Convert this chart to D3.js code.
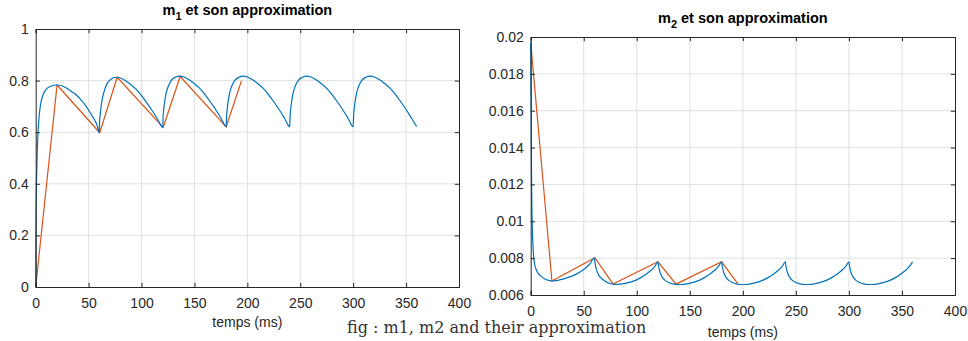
<!DOCTYPE html>
<html>
<head>
<meta charset="utf-8">
<script src="https://cdn.jsdelivr.net/npm/d3@7"></script>
<style>
  html, body { margin: 0; padding: 0; background: #fff; }
  svg { display: block; }
  .tick text { font-family: "Liberation Sans", Arial, sans-serif; font-size: 14px; fill: #262626; }
</style>
</head>
<body>
<svg id="fig" width="968" height="341"></svg>
<script>
// time axis ticks (ms), shared by both panels
const xTicks = [0, 50, 100, 150, 200, 250, 300, 350, 400];
const m1Ticks = [0, 0.2, 0.4, 0.6, 0.8, 1];
const m2Ticks = [0.006, 0.008, 0.01, 0.012, 0.014, 0.016, 0.018, 0.02];

// m1 : simulated trajectory [t (ms), value]
const m1Curve = [
  [0,0],[0.15,0.2],[0.4,0.32],[0.7,0.40],[1,0.45],[1.5,0.53],[2,0.585],[3,0.65],[4,0.69],[5.3,0.722],
  [7,0.745],[10,0.767],[14,0.778],[20,0.783],[25,0.779],[29,0.771],[34,0.757],[38.4,0.744],[43,0.724],
  [47.8,0.699],[52,0.672],[55.7,0.647],[58,0.627],[60,0.598],
  [60.4,0.64],[61,0.67],[62,0.705],[63,0.73],[65,0.763],[68,0.792],[72,0.808],[76,0.813],[80,0.810],
  [85,0.799],[90,0.784],[95,0.766],[100,0.742],[105,0.714],[110,0.684],[115,0.652],[120,0.619],
  [120.4,0.66],[121,0.69],[122,0.722],[123,0.746],[125,0.775],[128,0.8],[132,0.813],[136,0.817],[140,0.814],
  [145,0.803],[150,0.788],[155,0.770],[160,0.746],[165,0.718],[170,0.688],[175,0.655],[180,0.621],
  [180.4,0.662],[181,0.692],[182,0.723],[183,0.747],[185,0.776],[188,0.8],[192,0.813],[196,0.817],[200,0.814],
  [205,0.803],[210,0.788],[215,0.770],[220,0.746],[225,0.718],[230,0.688],[235,0.655],[240,0.621],
  [240.4,0.662],[241,0.692],[242,0.723],[243,0.747],[245,0.776],[248,0.8],[252,0.813],[256,0.817],[260,0.814],
  [265,0.803],[270,0.788],[275,0.770],[280,0.746],[285,0.718],[290,0.688],[295,0.655],[300,0.621],
  [300.4,0.662],[301,0.692],[302,0.723],[303,0.747],[305,0.776],[308,0.8],[312,0.813],[316,0.817],[320,0.814],
  [325,0.803],[330,0.788],[335,0.770],[340,0.746],[345,0.718],[350,0.688],[355,0.655],[360,0.622]
];
// m1 : piecewise-linear approximation
const m1Approx = [[0,0],[20.2,0.783],[60.5,0.598],[77,0.813],[120.5,0.619],[136.5,0.816],[180,0.621],[194.5,0.800]];

// m2 : simulated trajectory [t (ms), value]
const m2Curve = [
  [0,0.0197],[0.3,0.0165],[0.6,0.0135],[1,0.0112],[1.5,0.0097],[2.5,0.0083],[4,0.0076],[6,0.00728],
  [9,0.00705],[13,0.00688],[17,0.00679],[20,0.00676],[24,0.00678],[28,0.00683],[32,0.00689],[36,0.00697],
  [40,0.00705],[44,0.00716],[48,0.00730],[52,0.00748],[56,0.00770],[60,0.00802],
  [60.5,0.0078],[61,0.00762],[62,0.00738],[64,0.0071],[67,0.00688],[70,0.00675],[74,0.00664],[78,0.00659],
  [82,0.00658],[86,0.0066],[90,0.00664],[94,0.0067],[98,0.00678],[102,0.00689],[106,0.00702],[110,0.00718],
  [114,0.00737],[117,0.00755],[120,0.0078],
  [120.5,0.0076],[121,0.00744],[122,0.00722],[124,0.00697],[127,0.00678],[130,0.00668],[134,0.0066],[138,0.00657],
  [142,0.00657],[146,0.00659],[150,0.00664],[154,0.0067],[158,0.00678],[162,0.00689],[166,0.00702],[170,0.00718],
  [174,0.00737],[177,0.00755],[180,0.0078],
  [180.5,0.0076],[181,0.00744],[182,0.00722],[184,0.00697],[187,0.00678],[190,0.00668],[194,0.0066],[198,0.00657],
  [202,0.00657],[206,0.00659],[210,0.00664],[214,0.0067],[218,0.00678],[222,0.00689],[226,0.00702],[230,0.00718],
  [234,0.00737],[237,0.00755],[240,0.0078],
  [240.5,0.0076],[241,0.00744],[242,0.00722],[244,0.00697],[247,0.00678],[250,0.00668],[254,0.0066],[258,0.00657],
  [262,0.00657],[266,0.00659],[270,0.00664],[274,0.0067],[278,0.00678],[282,0.00689],[286,0.00702],[290,0.00718],
  [294,0.00737],[297,0.00755],[300,0.0078],
  [300.5,0.0076],[301,0.00744],[302,0.00722],[304,0.00697],[307,0.00678],[310,0.00668],[314,0.0066],[318,0.00657],
  [322,0.00657],[326,0.00659],[330,0.00664],[334,0.0067],[338,0.00678],[342,0.00689],[346,0.00702],[350,0.00718],
  [354,0.00737],[357,0.00755],[360,0.0078]
];
// m2 : piecewise-linear approximation
const m2Approx = [[0,0.0197],[20,0.00676],[60.5,0.00802],[77.5,0.0066],[120,0.0078],[137,0.00659],[180,0.0078],[195,0.00663]];

const BLUE = "#0072BD", ORANGE = "#D95319", INK = "#262626", GRID = "#e0e0e0";
const svg = d3.select("#fig");

function panel(opt) {
  const { left, top, width, height, yDomain, yTicks, yFormat, curve, approx, sub, titleY, xLabelY } = opt;
  const g = svg.append("g").attr("transform", `translate(${left},${top})`);
  const x = d3.scaleLinear().domain([0, 400]).range([0, width]);
  const y = d3.scaleLinear().domain(yDomain).range([height, 0]);
  const tk = 4.2;

  // grid
  g.append("g").selectAll("line").data(xTicks.slice(1, -1)).join("line")
    .attr("x1", d => x(d)).attr("x2", d => x(d)).attr("y1", 0).attr("y2", height)
    .attr("stroke", GRID).attr("stroke-width", 1);
  g.append("g").selectAll("line").data(yTicks.slice(1, -1)).join("line")
    .attr("y1", d => y(d)).attr("y2", d => y(d)).attr("x1", 0).attr("x2", width)
    .attr("stroke", GRID).attr("stroke-width", 1);

  // series: approximation first, exact trajectory over it
  g.append("path").datum(approx).attr("fill", "none").attr("stroke", ORANGE).attr("stroke-width", 1.2)
    .attr("d", d3.line().x(d => x(d[0])).y(d => y(d[1])));
  g.append("path").datum(curve).attr("fill", "none").attr("stroke", BLUE).attr("stroke-width", 1.2)
    .attr("d", d3.line().x(d => x(d[0])).y(d => y(d[1])).curve(d3.curveMonotoneX));

  // axes with inward ticks on all sides
  const ax = [
    g.append("g").attr("transform", `translate(0,${height})`)
      .call(d3.axisBottom(x).tickValues(xTicks).tickSize(-tk).tickPadding(11).tickFormat(d3.format("d"))),
    g.append("g")
      .call(d3.axisTop(x).tickValues(xTicks).tickSize(-tk).tickFormat("")),
    g.append("g").call(d3.axisLeft(y).tickValues(yTicks).tickSize(-tk).tickPadding(7).tickFormat(yFormat)),
    g.append("g").attr("transform", `translate(${width},0)`)
      .call(d3.axisRight(y).tickValues(yTicks).tickSize(-tk).tickFormat(""))
  ];
  ax.forEach(a => {
    a.select(".domain").attr("stroke", INK).attr("stroke-width", 1);
    a.selectAll(".tick line").attr("stroke", INK);
  });

  // title with subscript
  const t = g.append("text").attr("x", width / 2).attr("y", titleY).attr("text-anchor", "middle")
    .attr("font-family", "Liberation Sans, Arial, sans-serif").attr("font-size", 14.5)
    .attr("font-weight", "bold").attr("fill", "#000");
  t.append("tspan").text("m");
  t.append("tspan").attr("font-size", 11).attr("dy", 5).text(sub);
  t.append("tspan").attr("dy", -5).text(" et son approximation");

  g.append("text").attr("x", width / 2).attr("y", height + xLabelY).attr("text-anchor", "middle")
    .attr("font-family", "Liberation Sans, Arial, sans-serif").attr("font-size", 14).attr("fill", INK)
    .text("temps (ms)");
}

panel({ left: 35.7, top: 29, width: 423.3, height: 258, yDomain: [0, 1], yTicks: m1Ticks,
  yFormat: d3.format("~g"), curve: m1Curve, approx: m1Approx, sub: "1", titleY: -14, xLabelY: 40 });
panel({ left: 530.7, top: 37, width: 424.3, height: 258, yDomain: [0.006, 0.02], yTicks: m2Ticks,
  yFormat: d3.format("~g"), curve: m2Curve, approx: m2Approx, sub: "2", titleY: -14, xLabelY: 42 });

svg.append("text").attr("x", 347).attr("y", 333).attr("font-family", "DejaVu Serif, Liberation Serif, serif")
  .attr("font-size", 16).attr("fill", "#333").text("fig : m1, m2 and their approximation");
</script>
</body>
</html>
